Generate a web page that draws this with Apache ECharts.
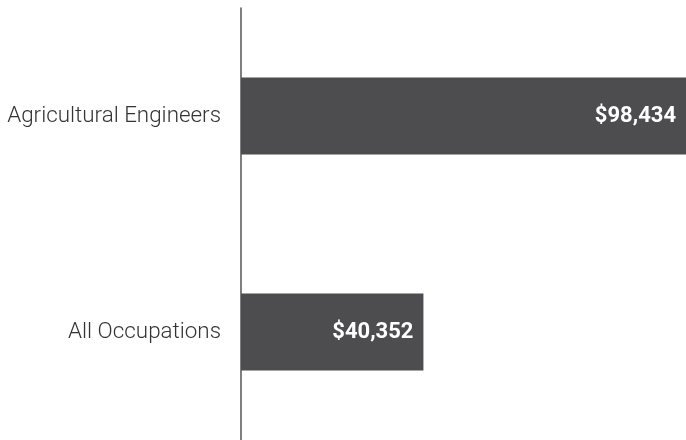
<!DOCTYPE html>
<html><head><meta charset="utf-8">
<script src="https://cdn.jsdelivr.net/npm/echarts@6/dist/echarts.min.js"></script>
<style>html,body{margin:0;padding:0;background:#fff}#c{width:686px;height:440px}</style>
</head><body><div id="c"></div>
<script>
const categories = ['Agricultural Engineers', 'All Occupations'];
const values = [98434, 40352];

const chart = echarts.init(document.getElementById('c'));
chart.setOption({
  animation: false,
  grid: {left: 241, right: -6, top: 8, bottom: 0},
  xAxis: {type: 'value', min: 0, max: 98434, show: false},
  yAxis: {
    type: 'category', data: categories, inverse: true,
    axisLine: {show: true, lineStyle: {color: '#555', width: 1.5}},
    axisTick: {show: false},
    axisLabel: {margin: 20, fontFamily: 'Roboto', fontSize: 22.4, fontWeight: 300, color: '#333'}
  },
  series: [{
    type: 'bar', data: values, barWidth: 77,
    itemStyle: {color: '#4d4d4f'},
    label: {
      show: true, position: 'insideRight', distance: 10,
      fontFamily: 'Roboto', fontSize: 22, fontWeight: 'bold', color: '#fff',
      formatter: p => '$' + p.value.toLocaleString('en-US')
    }
  }]
});
</script></body></html>
